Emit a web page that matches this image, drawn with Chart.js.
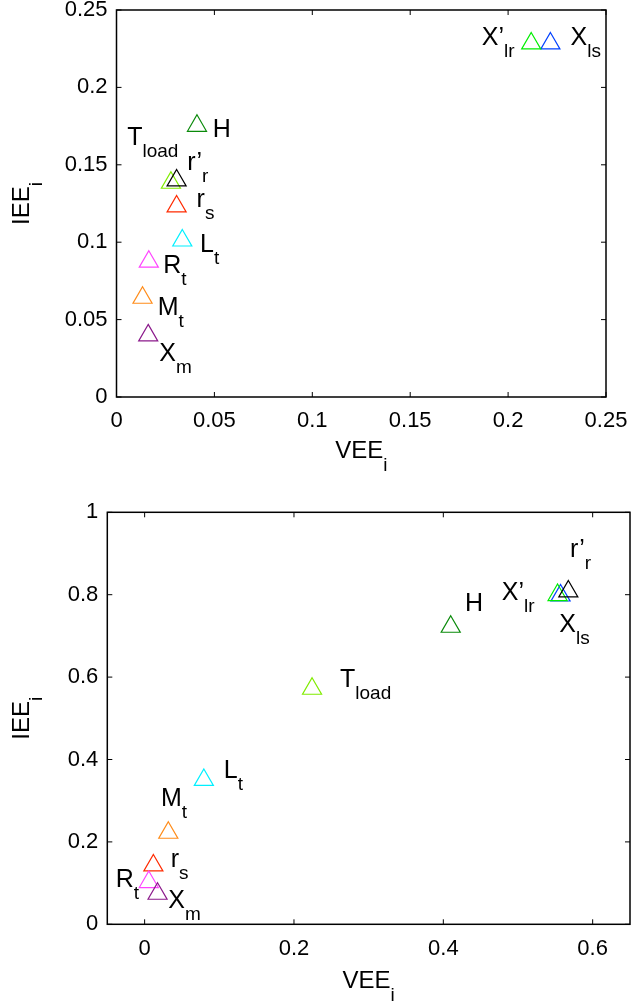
<!DOCTYPE html>
<html>
<head>
<meta charset="utf-8">
<script src="https://cdn.jsdelivr.net/npm/chart.js@4.4.1/dist/chart.umd.min.js"></script>
<style>
  body { margin: 0; background: #fff; }
  .wrap { position: absolute; left: 0; width: 631px; }
</style>
</head>
<body>
<div class="wrap" style="top:0;height:500px"><canvas id="chartTop" width="631" height="500"></canvas></div>
<div class="wrap" style="top:500px;height:506px"><canvas id="chartBottom" width="631" height="506"></canvas></div>
<script>
// parameter names (main text + subscript), same order in both plots
const labelMain = ["H", "T", "r", "L", "R", "M", "X", "X", "X\u2019", "r\u2019"];
const labelSub  = ["",  "load", "s", "t", "t", "t", "m", "ls", "lr", "r"];
const colors = ["#0a8a0a", "#80ec00", "#ff2a00", "#00f0ff", "#ff44ff", "#ff8c1a", "#8b1a8b", "#0040ff", "#00ee00", "#000000"];

// top plot values
const topVee = [0.0411, 0.0278, 0.0307, 0.0336, 0.0165, 0.0133, 0.0162, 0.2216, 0.2118, 0.0307];
const topIee = [0.1752, 0.1384, 0.1231, 0.1011, 0.0874, 0.0641, 0.0398, 0.2284, 0.2284, 0.1399];
const topXTicks = [0, 0.05, 0.1, 0.15, 0.2, 0.25];
const topYTicks = [0, 0.05, 0.1, 0.15, 0.2, 0.25];

// bottom plot values
const botVee = [0.4099, 0.2242, 0.0117, 0.0793, 0.0056, 0.0317, 0.0173, 0.557, 0.553, 0.5674];
const botIee = [0.7222, 0.5717, 0.1428, 0.3504, 0.1025, 0.2222, 0.0742, 0.798, 0.7992, 0.8079];
const botXTicks = [0, 0.2, 0.4, 0.6];
const botYTicks = [0, 0.2, 0.4, 0.6, 0.8, 1];

// label placement, pixels from the marker
const topOffsets = [[15.7, 11], [-43.7, -37.7], [20, 0.3], [17.7, 11.3], [14.5, 11.6], [15.2, 17.3], [11, 25.6], [20.2, 1.6], [-49.5, 1.6], [10.6, -10.5]];
const botOffsets = [[14.3, -15.7], [28, -2], [17.4, 1.3], [20, -1.7], [-33, 4.6], [-7.3, -26.7], [10.8, 14.6], [-1.3, 36], [-55.8, 5], [1.7, -34.7]];

const FONT = '"Liberation Sans", Arial, Helvetica, sans-serif';

function drawSub(ctx, main, sub, x, y, size, subSize, drop) {
  ctx.font = size + 'px ' + FONT;
  ctx.fillText(main, x, y);
  const w = ctx.measureText(main).width;
  if (sub) {
    ctx.font = subSize + 'px ' + FONT;
    ctx.fillText(sub, x + w, y + drop);
  }
}

function subWidth(ctx, main, sub, size, subSize) {
  ctx.font = size + 'px ' + FONT;
  let w = ctx.measureText(main).width;
  ctx.font = subSize + 'px ' + FONT;
  return w + ctx.measureText(sub).width;
}

const framePlugin = {
  id: 'frame',
  afterDraw(chart) {
    const ctx = chart.ctx, a = chart.chartArea;
    const xs = chart.scales.x, ys = chart.scales.y;
    const o = chart.options.plugins.frame;
    ctx.save();
    ctx.strokeStyle = '#000';
    ctx.lineWidth = 1.5;
    ctx.strokeRect(a.left, a.top, a.right - a.left, a.bottom - a.top);
    ctx.lineWidth = 1;
    ctx.beginPath();
    xs.ticks.forEach(t => {
      const p = xs.getPixelForValue(t.value);
      ctx.moveTo(p, a.bottom); ctx.lineTo(p, a.bottom - 5);
      ctx.moveTo(p, a.top); ctx.lineTo(p, a.top + 5);
    });
    ys.ticks.forEach(t => {
      const p = ys.getPixelForValue(t.value);
      ctx.moveTo(a.left, p); ctx.lineTo(a.left + 5, p);
      ctx.moveTo(a.right, p); ctx.lineTo(a.right - 5, p);
    });
    ctx.stroke();

    // point labels
    ctx.fillStyle = '#000';
    ctx.textBaseline = 'alphabetic';
    ctx.textAlign = 'left';
    const vee = o.vee, iee = o.iee;
    vee.forEach((v, i) => {
      const px = xs.getPixelForValue(v) + o.offsets[i][0];
      const py = ys.getPixelForValue(iee[i]) + o.offsets[i][1];
      drawSub(ctx, labelMain[i], labelSub[i], px, py, 25, 19, 12);
    });

    // axis titles
    const cx = (a.left + a.right) / 2;
    const w = subWidth(ctx, 'VEE', 'i', 24, 19);
    drawSub(ctx, 'VEE', 'i', cx - w / 2, a.bottom + o.xTitleDrop, 24, 19, 13);
    const cy = (a.top + a.bottom) / 2;
    const wy = subWidth(ctx, 'IEE', 'i', 24, 19);
    ctx.translate(o.yTitleX, cy);
    ctx.rotate(-Math.PI / 2);
    drawSub(ctx, 'IEE', 'i', -wy / 2, 0, 24, 19, 13);
    ctx.restore();
  }
};

function makeChart(id, vee, iee, xTicks, yTicks, xMin, xMax, yMin, yMax, box, extra) {
  const fixTicks = arr => scale => { scale.ticks = arr.map(v => ({ value: v })); };
  return new Chart(document.getElementById(id), {
    type: 'scatter',
    data: {
      datasets: [{
        data: vee.map((v, i) => ({ x: v, y: iee[i] })),
        pointStyle: 'triangle',
        pointRadius: 11,
        pointHoverRadius: 11,
        pointBorderWidth: 1.2,
        pointBorderColor: colors,
        pointBackgroundColor: 'rgba(0,0,0,0)',
        showLine: false,
        clip: false
      }]
    },
    options: {
      responsive: false,
      animation: false,
      devicePixelRatio: 1,
      layout: { autoPadding: false, padding: { left: 0, top: box.top, right: box.right, bottom: 0 } },
      plugins: {
        legend: { display: false },
        tooltip: { enabled: false },
        frame: extra
      },
      scales: {
        x: {
          type: 'linear', min: xMin, max: xMax,
          grid: { display: false, drawTicks: false },
          border: { display: false },
          afterBuildTicks: fixTicks(xTicks),
          afterFit: s => { s.height = box.xHeight; s.paddingLeft = 0; s.paddingRight = 0; },
          ticks: { color: '#000', padding: 11, maxRotation: 0, font: { family: FONT, size: 22 },
                   callback: v => String(v) }
        },
        y: {
          type: 'linear', min: yMin, max: yMax,
          grid: { display: false, drawTicks: false },
          border: { display: false },
          afterBuildTicks: fixTicks(yTicks),
          afterFit: s => { s.width = box.yWidth; s.paddingTop = 0; s.paddingBottom = 0; },
          ticks: { color: '#000', padding: 9, font: { family: FONT, size: 22 },
                   callback: v => String(v) }
        }
      }
    },
    plugins: [framePlugin]
  });
}

makeChart('chartTop', topVee, topIee, topXTicks, topYTicks, 0, 0.25, 0, 0.25,
  { top: 10, right: 25, xHeight: 103, yWidth: 116.5 },
  { vee: topVee, iee: topIee, offsets: topOffsets, xTitleDrop: 61, yTitleX: 28.5 });

makeChart('chartBottom', botVee, botIee, botXTicks, botYTicks, -0.05, 0.65, 0, 1,
  { top: 12.3, right: 1, xHeight: 81.7, yWidth: 107.3 },
  { vee: botVee, iee: botIee, offsets: botOffsets, xTitleDrop: 64, yTitleX: 29.3 });
</script>
</body>
</html>
